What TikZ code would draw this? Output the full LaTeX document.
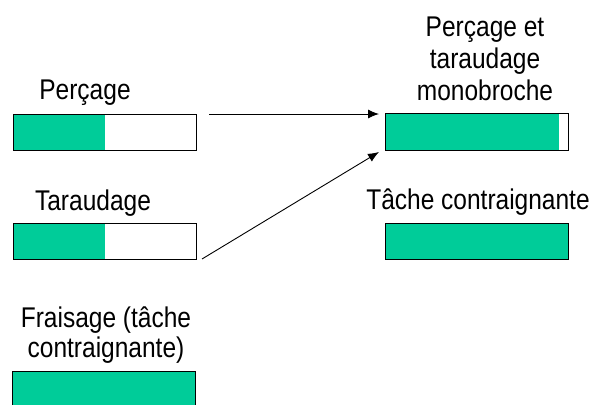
\documentclass[tikz,border=0pt]{standalone}
\usepackage{fontspec}
\setmainfont{Liberation Sans}[FakeStretch=0.86]
\usetikzlibrary{arrows.meta}
\definecolor{tgreen}{RGB}{0,204,153}
\begin{document}
\begin{tikzpicture}[x=1pt,y=-1pt,
  bar/.style={draw=black, line width=1pt, minimum width=183pt, minimum height=#1, inner sep=0pt, anchor=north west, outer sep=0pt},
  part/.style={path picture={\fill[tgreen] (path picture bounding box.south west) rectangle ([xshift=#1]path picture bounding box.north west);}},
  lbl/.style={font=\fontsize{28.5}{#1}\selectfont, inner sep=0pt, anchor=base, align=center},
  lbl/.default=31,
  arr/.style={draw=black, line width=0.9pt, -{Latex[length=11pt,width=9pt]}}
]
\clip (0,0) rectangle (593,404);
% bars
\node[bar=36pt, part=92pt] (p) at (13,114) {};
\node[bar=36pt, part=92pt] (t) at (13,223) {};
\node[bar=40pt, part=183pt] (f) at (12,371) {};
\node[bar=37pt, part=174pt] (m) at (385,113) {};
\node[bar=36pt, part=183pt] (c) at (385,223) {};
% labels
\node[lbl] (lp) at (85,99) {Perçage};
\node[lbl] (lt) at (93,210) {Taraudage};
\node[lbl=30] (lf) at (106,357) {Fraisage (tâche\\contraignante)};
\node[lbl=32] (lm) at (485,100) {Perçage et\\taraudage\\monobroche};
\node[lbl] (lc) at (478,209) {Tâche contraignante};
% arrows
\coordinate (a1s) at ([xshift=13pt]p.north east);
\coordinate (a1e) at ([xshift=-6pt,yshift=-1pt]m.north west);
\coordinate (a2s) at ([xshift=6pt]t.south east);
\coordinate (a2e) at ([xshift=-6pt,yshift=-2pt]m.south west);
\draw[arr] (a1s) -- (a1e);
\draw[arr] (a2s) -- (a2e);
\end{tikzpicture}
\end{document}
